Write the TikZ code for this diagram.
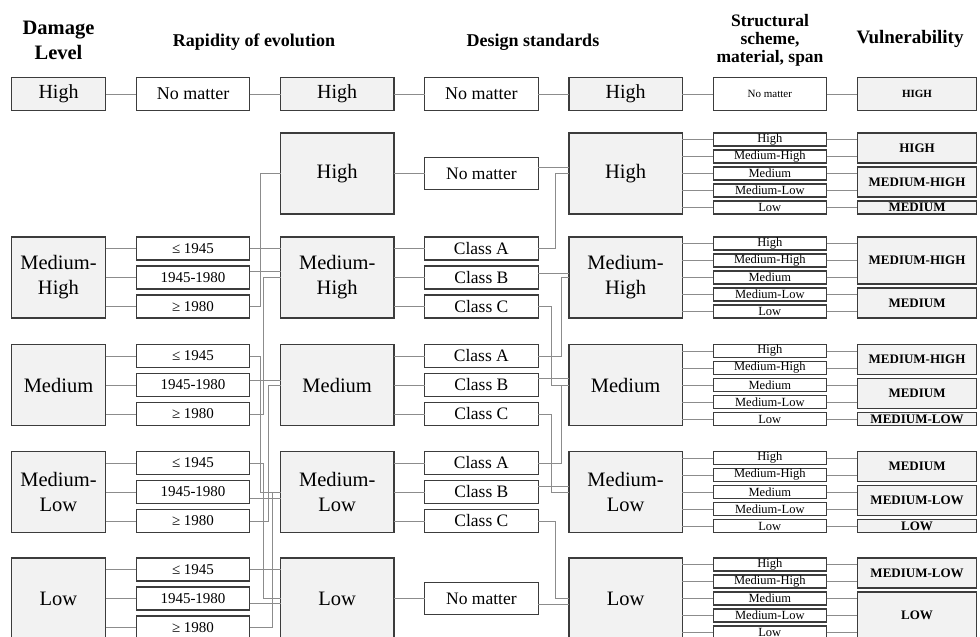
\documentclass[tikz,border=0pt]{standalone}
\usepackage{fontspec}
\setmainfont{Liberation Serif}
\usetikzlibrary{positioning}

\definecolor{boxline}{HTML}{3C3C3C}
\definecolor{boxfill}{HTML}{F2F2F2}
\definecolor{wire}{HTML}{8C8C8C}

\tikzstyle{cell} = [rectangle, draw=boxline, line width=1.2pt, inner sep=0pt, outer sep=0pt, align=center, text=black]
\tikzstyle{lvlbox} = [cell, fill=boxfill, minimum width=113.4pt, minimum height=81pt, font=\fontsize{20.5}{25}\selectfont]
\tikzstyle{dmgbox} = [lvlbox, minimum width=94pt]
\tikzstyle{topbox} = [cell, minimum width=113.4pt, minimum height=32.5pt, font=\fontsize{20}{24}\selectfont]
\tikzstyle{optbox} = [cell, fill=white, minimum width=113.4pt, minimum height=23pt, font=\fontsize{17.5}{20}\selectfont]
\tikzstyle{yearbox} = [optbox, font=\fontsize{15}{18}\selectfont]
\tikzstyle{subbox} = [cell, fill=white, minimum width=113.4pt, minimum height=13pt, font=\fontsize{12.5}{13}\selectfont]
\tikzstyle{vulbox} = [cell, fill=boxfill, minimum width=119.5pt, font=\bfseries\fontsize{13}{15}\selectfont]
\tikzstyle{headtext} = [align=center, font=\bfseries\fontsize{18}{22}\selectfont]
\tikzstyle{link} = [draw=wire, line width=0.9pt]

\begin{document}
\begin{tikzpicture}[x=1pt,y=-1pt]
\useasboundingbox (0,0) rectangle (980,637);
\clip (0,0) rectangle (980,637);

% column titles
\node[headtext, font=\bfseries\fontsize{20.5}{25}\selectfont] (hdDamage) at (58.5,40) {Damage\\Level};
\node[headtext] (hdRapidity) at (254,42) {Rapidity of evolution};
\node[headtext] (hdDesign) at (533,42) {Design standards};
\node[headtext, font=\bfseries\fontsize{17.5}{18}\selectfont] (hdStructure) at (770,40.7) {Structural\\scheme,\\material, span};
\node[headtext, font=\bfseries\fontsize{19}{22}\selectfont] (hdVuln) at (910,38.5) {Vulnerability};

% first row
\node[topbox, fill=boxfill, minimum width=94pt] (topDamage) at (58.5,94) {High};
\node[topbox, fill=white, font=\fontsize{18}{21}\selectfont, right=30.8pt of topDamage] (topRapidity) {No matter};
\node[topbox, fill=boxfill, right=30.8pt of topRapidity] (topRapClass) {High};
\node[topbox, fill=white, font=\fontsize{18}{21}\selectfont, right=30.8pt of topRapClass] (topDesign) {No matter};
\node[topbox, fill=boxfill, right=30.8pt of topDesign] (topDesClass) {High};
\node[topbox, fill=white, font=\fontsize{11}{13}\selectfont, right=30.8pt of topDesClass] (topStructure) {No matter};
\node[topbox, fill=boxfill, minimum width=119.5pt, font=\bfseries\fontsize{11}{13}\selectfont, right=30.8pt of topStructure] (topVuln) {HIGH};

% rapidity classes
\node[lvlbox] (rapHigh) at (337.2,173.5) {High};
\node[lvlbox, below=23pt of rapHigh] (rapMedHigh) {Medium-\\High};
\node[lvlbox, below=26.5pt of rapMedHigh] (rapMed) {Medium};
\node[lvlbox, below=26pt of rapMed] (rapMedLow) {Medium-\\Low};
\node[lvlbox, below=25.5pt of rapMedLow] (rapLow) {Low};

% years of construction
\node[yearbox, left=30.8pt of rapMedHigh.north west, anchor=north east] (evoMH1) {≤ 1945};
\node[yearbox, below=6pt of evoMH1] (evoMH2) {1945-1980};
\node[yearbox, below=6pt of evoMH2] (evoMH3) {≥ 1980};
\node[yearbox, left=30.8pt of rapMed.north west, anchor=north east] (evoM1) {≤ 1945};
\node[yearbox, below=6pt of evoM1] (evoM2) {1945-1980};
\node[yearbox, below=6pt of evoM2] (evoM3) {≥ 1980};
\node[yearbox, left=30.8pt of rapMedLow.north west, anchor=north east] (evoML1) {≤ 1945};
\node[yearbox, below=6pt of evoML1] (evoML2) {1945-1980};
\node[yearbox, below=6pt of evoML2] (evoML3) {≥ 1980};
\node[yearbox, left=30.8pt of rapLow.north west, anchor=north east] (evoL1) {≤ 1945};
\node[yearbox, below=6pt of evoL1] (evoL2) {1945-1980};
\node[yearbox, below=6pt of evoL2] (evoL3) {≥ 1980};

% damage levels
\node[dmgbox, left=30.8pt of evoMH1.north west, anchor=north east] (dmgMedHigh) {Medium-\\High};
\node[dmgbox, left=30.8pt of evoM1.north west, anchor=north east] (dmgMed) {Medium};
\node[dmgbox, left=30.8pt of evoML1.north west, anchor=north east] (dmgMedLow) {Medium-\\Low};
\node[dmgbox, left=30.8pt of evoL1.north west, anchor=north east] (dmgLow) {Low};

% design standards
\node[optbox, minimum height=32pt, right=30.8pt of rapHigh] (stdHigh) {No matter};
\node[optbox, right=30.8pt of rapMedHigh.north east, anchor=north west] (stdMHa) {Class A};
\node[optbox, below=6pt of stdMHa] (stdMHb) {Class B};
\node[optbox, below=6pt of stdMHb] (stdMHc) {Class C};
\node[optbox, right=30.8pt of rapMed.north east, anchor=north west] (stdMa) {Class A};
\node[optbox, below=6pt of stdMa] (stdMb) {Class B};
\node[optbox, below=6pt of stdMb] (stdMc) {Class C};
\node[optbox, right=30.8pt of rapMedLow.north east, anchor=north west] (stdMLa) {Class A};
\node[optbox, below=6pt of stdMLa] (stdMLb) {Class B};
\node[optbox, below=6pt of stdMLb] (stdMLc) {Class C};
\node[optbox, minimum height=32pt, right=30.8pt of rapLow] (stdLow) {No matter};

% design classes
\node[lvlbox, right=30.8pt of stdHigh] (desHigh) {High};
\node[lvlbox, right=30.8pt of stdMHa.north east, anchor=north west] (desMedHigh) {Medium-\\High};
\node[lvlbox, right=30.8pt of stdMa.north east, anchor=north west] (desMed) {Medium};
\node[lvlbox, right=30.8pt of stdMLa.north east, anchor=north west] (desMedLow) {Medium-\\Low};
\node[lvlbox, right=30.8pt of stdLow] (desLow) {Low};

% structural scheme, material, span
\node[subbox, right=30.8pt of desHigh.north east, anchor=north west] (strH1) {High};
\node[subbox, below=4pt of strH1] (strH2) {Medium-High};
\node[subbox, below=4pt of strH2] (strH3) {Medium};
\node[subbox, below=4pt of strH3] (strH4) {Medium-Low};
\node[subbox, below=4pt of strH4] (strH5) {Low};
\node[subbox, right=30.8pt of desMedHigh.north east, anchor=north west] (strMH1) {High};
\node[subbox, below=4pt of strMH1] (strMH2) {Medium-High};
\node[subbox, below=4pt of strMH2] (strMH3) {Medium};
\node[subbox, below=4pt of strMH3] (strMH4) {Medium-Low};
\node[subbox, below=4pt of strMH4] (strMH5) {Low};
\node[subbox, right=30.8pt of desMed.north east, anchor=north west] (strM1) {High};
\node[subbox, below=4pt of strM1] (strM2) {Medium-High};
\node[subbox, below=4pt of strM2] (strM3) {Medium};
\node[subbox, below=4pt of strM3] (strM4) {Medium-Low};
\node[subbox, below=4pt of strM4] (strM5) {Low};
\node[subbox, right=30.8pt of desMedLow.north east, anchor=north west] (strML1) {High};
\node[subbox, below=4pt of strML1] (strML2) {Medium-High};
\node[subbox, below=4pt of strML2] (strML3) {Medium};
\node[subbox, below=4pt of strML3] (strML4) {Medium-Low};
\node[subbox, below=4pt of strML4] (strML5) {Low};
\node[subbox, right=30.8pt of desLow.north east, anchor=north west] (strL1) {High};
\node[subbox, below=4pt of strL1] (strL2) {Medium-High};
\node[subbox, below=4pt of strL2] (strL3) {Medium};
\node[subbox, below=4pt of strL3] (strL4) {Medium-Low};
\node[subbox, below=4pt of strL4] (strL5) {Low};

% vulnerability
\node[vulbox, minimum height=30pt, right=30.8pt of strH1.north east, anchor=north west] (vulH1) {HIGH};
\node[vulbox, minimum height=30pt, right=30.8pt of strH3.north east, anchor=north west] (vulH2) {MEDIUM-HIGH};
\node[vulbox, minimum height=13pt, right=30.8pt of strH5.north east, anchor=north west] (vulH3) {MEDIUM};
\node[vulbox, minimum height=47pt, right=30.8pt of strMH1.north east, anchor=north west] (vulMH1) {MEDIUM-HIGH};
\node[vulbox, minimum height=30pt, right=30.8pt of strMH4.north east, anchor=north west] (vulMH2) {MEDIUM};
\node[vulbox, minimum height=30pt, right=30.8pt of strM1.north east, anchor=north west] (vulM1) {MEDIUM-HIGH};
\node[vulbox, minimum height=30pt, right=30.8pt of strM3.north east, anchor=north west] (vulM2) {MEDIUM};
\node[vulbox, minimum height=13pt, right=30.8pt of strM5.north east, anchor=north west] (vulM3) {MEDIUM-LOW};
\node[vulbox, minimum height=30pt, right=30.8pt of strML1.north east, anchor=north west] (vulML1) {MEDIUM};
\node[vulbox, minimum height=30pt, right=30.8pt of strML3.north east, anchor=north west] (vulML2) {MEDIUM-LOW};
\node[vulbox, minimum height=13pt, right=30.8pt of strML5.north east, anchor=north west] (vulML3) {LOW};
\node[vulbox, minimum height=30pt, right=30.8pt of strL1.north east, anchor=north west] (vulL1) {MEDIUM-LOW};
\node[vulbox, minimum height=47pt, right=30.8pt of strL3.north east, anchor=north west] (vulL2) {LOW};

% first row
\draw[link] (topDamage) -- (topRapidity);
\draw[link] (topRapidity) -- (topRapClass);
\draw[link] (topRapClass) -- (topDesign);
\draw[link] (topDesign) -- (topDesClass);
\draw[link] (topDesClass) -- (topStructure);
\draw[link] (topStructure) -- (topVuln);

% damage level -> year
\draw[link] (dmgMedHigh.east |- evoMH1) -- (evoMH1);
\draw[link] (dmgMedHigh.east |- evoMH2) -- (evoMH2);
\draw[link] (dmgMedHigh.east |- evoMH3) -- (evoMH3);
\draw[link] (dmgMed.east |- evoM1) -- (evoM1);
\draw[link] (dmgMed.east |- evoM2) -- (evoM2);
\draw[link] (dmgMed.east |- evoM3) -- (evoM3);
\draw[link] (dmgMedLow.east |- evoML1) -- (evoML1);
\draw[link] (dmgMedLow.east |- evoML2) -- (evoML2);
\draw[link] (dmgMedLow.east |- evoML3) -- (evoML3);
\draw[link] (dmgLow.east |- evoL1) -- (evoL1);
\draw[link] (dmgLow.east |- evoL2) -- (evoL2);
\draw[link] (dmgLow.east |- evoL3) -- (evoL3);

% year -> rapidity class
\draw[link] (evoMH1) -- (evoMH1 -| rapMedHigh.west);
\draw[link] ([yshift=6pt]evoMH2.east) -- ([yshift=6pt]evoMH2.east -| rapMedHigh.west);
\draw[link] (evoMH3.east) -- ++(10.3,0) |- (rapHigh.west);
\draw[link] (evoM1.east) -- ++(10.3,0) |- (rapMedLow.west);
\draw[link] ([yshift=4.5pt]evoM2.east) -- ([yshift=4.5pt]evoM2.east -| rapMed.west);
\draw[link] (evoM3.east) -- ++(13.6,0) |- (rapMedHigh.west);
\draw[link] (evoML1.east) -- ++(13.6,0) |- (rapLow.west);
\draw[link] ([yshift=-6.5pt]evoML2.east) -- ([yshift=-6.5pt]evoML2.east -| rapMedLow.west);
\draw[link] (evoML3.east) -- ++(18.6,0) |- (rapMed.west);
\draw[link] (evoL1) -- (evoL1 -| rapLow.west);
\draw[link] ([yshift=-4.5pt]evoL2.east) -- ([yshift=-4.5pt]evoL2.east -| rapLow.west);
\draw[link] (evoL3.east) -- ++(22.3,0) |- (rapMedLow.west);

% rapidity class -> design standard
\draw[link] (rapHigh.east |- stdHigh) -- (stdHigh);
\draw[link] (rapMedHigh.east |- stdMHa) -- (stdMHa);
\draw[link] (rapMedHigh.east |- stdMHb) -- (stdMHb);
\draw[link] (rapMedHigh.east |- stdMHc) -- (stdMHc);
\draw[link] (rapMed.east |- stdMa) -- (stdMa);
\draw[link] (rapMed.east |- stdMb) -- (stdMb);
\draw[link] (rapMed.east |- stdMc) -- (stdMc);
\draw[link] (rapMedLow.east |- stdMLa) -- (stdMLa);
\draw[link] (rapMedLow.east |- stdMLb) -- (stdMLb);
\draw[link] (rapMedLow.east |- stdMLc) -- (stdMLc);
\draw[link] (rapLow.east |- stdLow) -- (stdLow);

% design standard -> design class
\draw[link] ([yshift=6pt]stdHigh.east) -- ([yshift=6pt]stdHigh.east -| desHigh.west);
\draw[link] (stdMHa.east) -- ++(17,0) |- (desHigh.west);
\draw[link] ([yshift=4pt]stdMHb.east) -- ([yshift=4pt]stdMHb.east -| desMedHigh.west);
\draw[link] (stdMHc.east) -- ++(13.6,0) |- (desMed.west);
\draw[link] (stdMa.east) -- ++(23.6,0) |- (desMedHigh.west);
\draw[link] ([yshift=7pt]stdMb.east) -- ([yshift=7pt]stdMb.east -| desMed.west);
\draw[link] (stdMc.east) -- ++(13.6,0) |- (desMedLow.west);
\draw[link] (stdMLa.east) -- ++(23.6,0) |- (desMed.west);
\draw[link] ([yshift=6pt]stdMLb.east) -- ([yshift=6pt]stdMLb.east -| desMedLow.west);
\draw[link] (stdMLc.east) -- ++(17,0) |- (desLow.west);
\draw[link] ([yshift=-5.5pt]stdLow.east) -- ([yshift=-5.5pt]stdLow.east -| desLow.west);

% design class -> structure -> vulnerability
\draw[link] (desHigh.east |- strH1) -- (strH1) -- (strH1 -| vulH1.west);
\draw[link] (desHigh.east |- strH2) -- (strH2) -- (strH2 -| vulH1.west);
\draw[link] (desHigh.east |- strH3) -- (strH3) -- (strH3 -| vulH2.west);
\draw[link] (desHigh.east |- strH4) -- (strH4) -- (strH4 -| vulH2.west);
\draw[link] (desHigh.east |- strH5) -- (strH5) -- (strH5 -| vulH3.west);
\draw[link] (desMedHigh.east |- strMH1) -- (strMH1) -- (strMH1 -| vulMH1.west);
\draw[link] (desMedHigh.east |- strMH2) -- (strMH2) -- (strMH2 -| vulMH1.west);
\draw[link] (desMedHigh.east |- strMH3) -- (strMH3) -- (strMH3 -| vulMH1.west);
\draw[link] (desMedHigh.east |- strMH4) -- (strMH4) -- (strMH4 -| vulMH2.west);
\draw[link] (desMedHigh.east |- strMH5) -- (strMH5) -- (strMH5 -| vulMH2.west);
\draw[link] (desMed.east |- strM1) -- (strM1) -- (strM1 -| vulM1.west);
\draw[link] (desMed.east |- strM2) -- (strM2) -- (strM2 -| vulM1.west);
\draw[link] (desMed.east |- strM3) -- (strM3) -- (strM3 -| vulM2.west);
\draw[link] (desMed.east |- strM4) -- (strM4) -- (strM4 -| vulM2.west);
\draw[link] (desMed.east |- strM5) -- (strM5) -- (strM5 -| vulM3.west);
\draw[link] (desMedLow.east |- strML1) -- (strML1) -- (strML1 -| vulML1.west);
\draw[link] (desMedLow.east |- strML2) -- (strML2) -- (strML2 -| vulML1.west);
\draw[link] (desMedLow.east |- strML3) -- (strML3) -- (strML3 -| vulML2.west);
\draw[link] (desMedLow.east |- strML4) -- (strML4) -- (strML4 -| vulML2.west);
\draw[link] (desMedLow.east |- strML5) -- (strML5) -- (strML5 -| vulML3.west);
\draw[link] (desLow.east |- strL1) -- (strL1) -- (strL1 -| vulL1.west);
\draw[link] (desLow.east |- strL2) -- (strL2) -- (strL2 -| vulL1.west);
\draw[link] (desLow.east |- strL3) -- (strL3) -- (strL3 -| vulL2.west);
\draw[link] (desLow.east |- strL4) -- (strL4) -- (strL4 -| vulL2.west);
\draw[link] (desLow.east |- strL5) -- (strL5) -- (strL5 -| vulL2.west);

\end{tikzpicture}
\end{document}
